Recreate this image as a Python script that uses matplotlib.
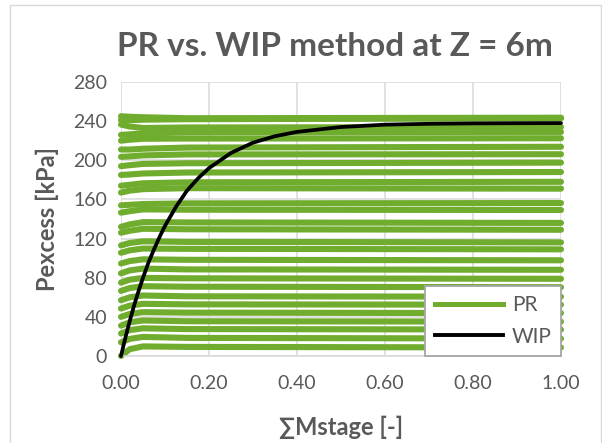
import matplotlib
matplotlib.use("Agg")
import matplotlib.pyplot as plt
from matplotlib.patches import Rectangle
from matplotlib.lines import Line2D

# ---- data -------------------------------------------------------------
# PR method: one curve per loading stage, sampled at these ∑Mstage values
pr_x = [0.0, 0.02, 0.05, 0.15, 1.0]
pr_stages = [
    [0.0, 7.0, 9.8, 9.3, 8.7],
    [14.0, 17.5, 19.5, 18.5, 17.8],
    [23.0, 26.5, 28.3, 27.5, 27.0],
    [31.0, 34.5, 36.3, 35.5, 35.1],
    [40.0, 43.0, 44.8, 44.3, 43.8],
    [48.5, 51.5, 53.3, 52.8, 52.4],
    [57.0, 60.0, 61.8, 61.0, 60.6],
    [66.5, 69.5, 71.3, 70.8, 70.3],
    [75.0, 78.0, 79.8, 79.4, 78.9],
    [84.5, 87.5, 89.3, 88.5, 88.1],
    [94.5, 97.0, 98.8, 98.3, 97.8],
    [105.5, 108.0, 109.8, 109.5, 109.0],
    [113.0, 115.5, 117.2, 116.6, 116.1],
    [126.0, 128.0, 130.0, 129.5, 129.0],
    [132.0, 134.5, 136.8, 136.5, 136.0],
    [146.5, 148.0, 149.8, 149.5, 149.2],
    [154.0, 154.5, 155.3, 156.0, 156.3],
    [167.0, 169.0, 170.5, 171.5, 171.0],
    [174.0, 175.0, 176.5, 177.5, 178.0],
    [185.0, 185.5, 186.5, 187.5, 188.0],
    [194.0, 195.0, 196.3, 197.0, 197.6],
    [203.5, 204.0, 205.0, 206.0, 206.2],
    [211.0, 211.0, 211.8, 213.0, 213.8],
    [220.0, 221.0, 222.0, 222.2, 222.5],
    [226.0, 226.5, 227.5, 228.5, 229.0],
    [236.5, 234.5, 233.0, 233.5, 234.0],
    [241.0, 241.0, 241.5, 242.0, 242.9],
    [245.0, 244.5, 244.0, 243.0, 243.5],
]

# WIP method: excess pore pressure vs cumulative stage ratio
wip_x = [0.0, 0.01, 0.02, 0.03, 0.04, 0.05, 0.0625, 0.075, 0.0875, 0.10,
         0.125, 0.15, 0.175, 0.20, 0.25, 0.30, 0.35, 0.40, 0.50, 0.60,
         0.70, 0.80, 0.90, 1.00]
wip_y = [0.0, 18.8, 36.0, 52.0, 66.5, 80.0, 95.5, 109.0, 121.5, 133.0,
         152.5, 169.0, 181.5, 192.0, 207.5, 218.0, 224.6, 229.0, 234.0,
         236.4, 237.3, 237.7, 237.9, 238.0]

x_ticks = [0.0, 0.2, 0.4, 0.6, 0.8, 1.0]
y_ticks = [0, 40, 80, 120, 160, 200, 240, 280]

title = "PR vs. WIP method at Z = 6m"
x_label = "∑Mstage [-]"
y_label = "Pexcess [kPa]"

# ---- styling ----------------------------------------------------------
GREEN = "#70AD2F"
TEXT = "#595959"
GRID = "#D9D9D9"
plt.rcParams["font.family"] = ["Lato", "DejaVu Sans"]

W, H = 602, 443
fig = plt.figure(figsize=(W / 100, H / 100), dpi=100)
fig.patch.set_facecolor("white")

# chart-area border
fig.patches.append(Rectangle((10 / W, -0.01), (W - 11) / W, 1 - 5 / H + 0.01,
                             transform=fig.transFigure, fill=False,
                             edgecolor="#D9D9D9", linewidth=1.0))

ax = fig.add_axes([121 / W, 1 - 356 / H, 440 / W, 274 / H])
ax.set_xlim(0, 1)
ax.set_ylim(0, 280)
ax.set_xticks(x_ticks)
ax.set_yticks(y_ticks)
ax.set_xticklabels([f"{v:.2f}" for v in x_ticks])
ax.set_yticklabels([str(v) for v in y_ticks])
ax.tick_params(length=0, labelsize=14, colors=TEXT)
ax.tick_params(axis="x", pad=14)
ax.tick_params(axis="y", pad=10)
ax.grid(True, color=GRID, linewidth=1.1)
ax.set_axisbelow(True)
for side in ("left", "right", "top"):
    ax.spines[side].set_visible(False)
ax.spines["bottom"].set_color(GRID)
ax.spines["bottom"].set_linewidth(1.1)

for stage in pr_stages:
    ax.plot(pr_x, stage, color=GREEN, linewidth=4.4,
            solid_capstyle="round", solid_joinstyle="round", zorder=2,
            clip_on=False)

ax.plot(wip_x, wip_y, color="black", linewidth=2.7,
        solid_capstyle="round", solid_joinstyle="round", zorder=3,
        clip_on=False)

ax.set_xlabel(x_label, fontsize=17, fontweight="bold", color=TEXT, labelpad=17)
ax.set_ylabel(y_label, fontsize=17, fontweight="bold", color=TEXT, labelpad=10)
fig.text(335 / W, 1 - 47 / H, title, fontsize=24, fontweight="bold",
         color=TEXT, ha="center", va="center")

handles = [Line2D([], [], color=GREEN, linewidth=3.6),
           Line2D([], [], color="black", linewidth=2.8)]
leg = ax.legend(handles, ["PR", "WIP"], loc="lower right",
                bbox_to_anchor=(1.0, 0.0), borderaxespad=0.0,
                fontsize=15, handlelength=3.3, handletextpad=0.4,
                labelspacing=0.55, borderpad=0.45, fancybox=False,
                framealpha=1.0, labelcolor=TEXT)
leg.get_frame().set_edgecolor("#A6A6A6")
leg.get_frame().set_linewidth(1.3)
leg.set_zorder(5)

fig.savefig("out.png", dpi=100)
